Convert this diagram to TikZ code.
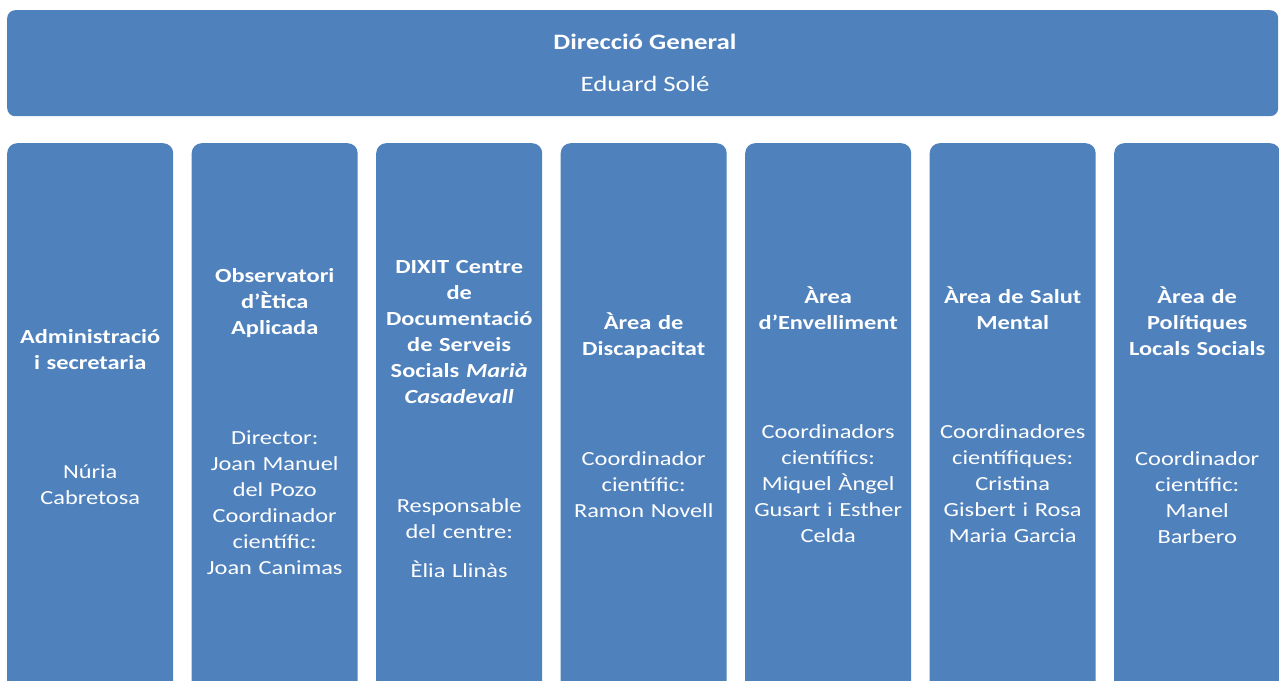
\documentclass[tikz,border=0pt]{standalone}
\usepackage{fontspec}
\setmainfont{Carlito}[FakeStretch=1.22]
\definecolor{boxblue}{RGB}{79,129,189}
\begin{document}
\begin{tikzpicture}[x=1pt,y=-1pt,
  topbox/.style={fill=boxblue, rounded corners=8pt, draw=none, inner sep=0,
    minimum width=1271pt, minimum height=106pt, anchor=north west},
  colbox/.style={fill=boxblue, rounded corners=10pt, draw=none, inner sep=0,
    minimum width=166pt, minimum height=560pt, anchor=north west},
  txt/.style={text=white, align=center, text width=180pt, anchor=base, inner sep=0,
    font=\fontsize{20}{26}\selectfont},
  head/.style={txt, font=\fontsize{20}{26}\selectfont\bfseries},
  titletxt/.style={text=white, anchor=base, inner sep=0, font=\fontsize{22}{26}\selectfont}
]
\useasboundingbox (0,0) rectangle (1279,680);
\clip (0,0) rectangle (1279,680);

\node[topbox] (dg) at (7,10) {};
\node[titletxt, font=\fontsize{22}{26}\selectfont\bfseries] (dgt) at (645,49) {Direcció General};
\node[titletxt] (dgn) at (645,91) {Eduard Solé};

\foreach \i in {1,...,7}
  \node[colbox] (c\i) at ({7+184.5*(\i-1)},143) {};

% column 1
\node[head] (h1) at (c1.north |- 0,343) {Administració\\i secretaria};
\node[txt] (b1) at (c1.north |- 0,478) {Núria\\Cabretosa};

% column 2
\node[head] (h2) at (c2.north |- 0,282) {Observatori\\d’Ètica\\Aplicada};
\node[txt] (b2) at (c2.north |- 0,444) {Director:\\Joan Manuel\\del Pozo\\Coordinador\\científic:\\Joan Canimas};

% column 3
\node[head] (h3) at (c3.north |- 0,273) {DIXIT Centre\\de\\Documentació\\de Serveis\\Socials \textit{Marià}\\\textit{Casadevall}};
\node[txt] (b3) at (c3.north |- 0,512) {Responsable\\del centre:\\[13pt]Èlia Llinàs};

% column 4
\node[head] (h4) at (c4.north |- 0,329) {Àrea de\\Discapacitat};
\node[txt] (b4) at (c4.north |- 0,465) {Coordinador\\científic:\\Ramon Novell};

% column 5
\node[head] (h5) at (c5.north |- 0,303) {Àrea\\d’Envelliment};
\node[txt] (b5) at (c5.north |- 0,438) {Coordinadors\\científics:\\Miquel Àngel\\Gusart i Esther\\Celda};

% column 6
\node[head] (h6) at (c6.north |- 0,303) {Àrea de Salut\\Mental};
\node[txt] (b6) at (c6.north |- 0,438) {Coordinadores\\científiques:\\Cristina\\Gisbert i Rosa\\Maria Garcia};

% column 7
\node[head] (h7) at (c7.north |- 0,303) {Àrea de\\Polítiques\\Locals Socials};
\node[txt] (b7) at (c7.north |- 0,465) {Coordinador\\científic:\\Manel\\Barbero};
\end{tikzpicture}
\end{document}
